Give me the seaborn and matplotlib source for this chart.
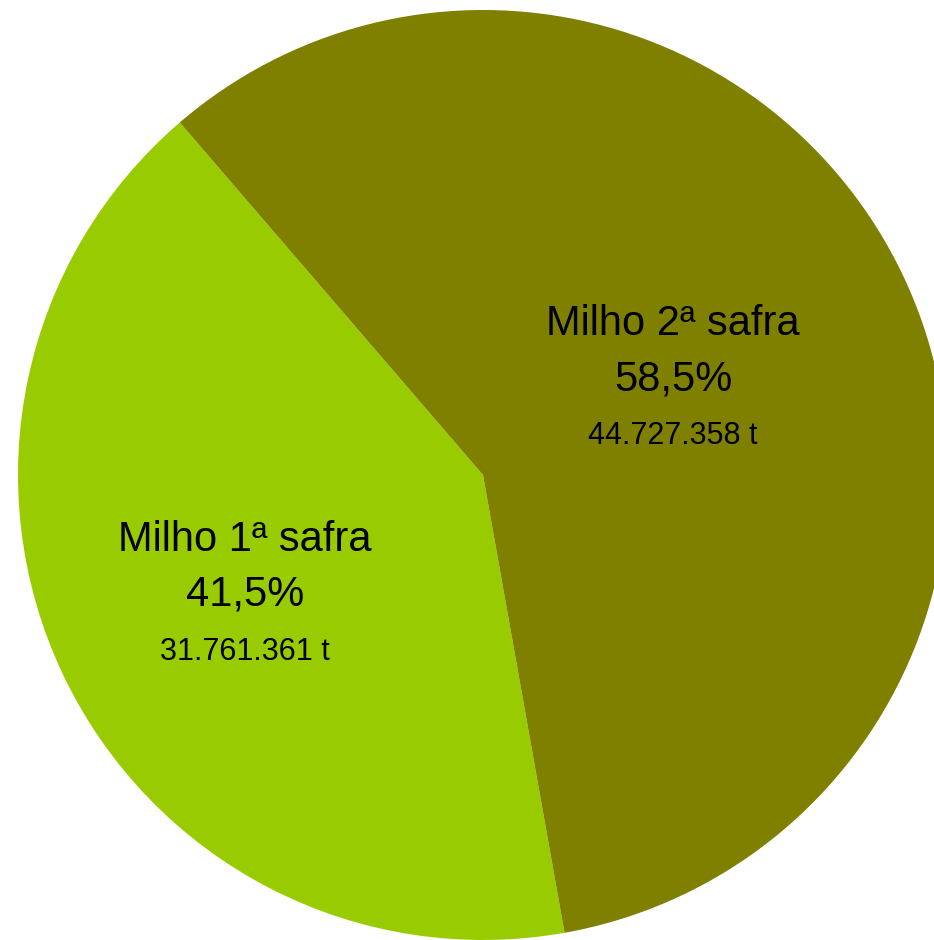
import matplotlib
matplotlib.use("Agg")
import matplotlib.pyplot as plt
import seaborn as sns

# dados
categorias = ["Milho 1ª safra", "Milho 2ª safra"]
percentuais = [41.5, 58.5]
rotulos_pct = ["41,5%", "58,5%"]
toneladas = ["31.761.361 t", "44.727.358 t"]
cores = ["#99CC00", "#808000"]

sns.set_theme(style="white")
plt.rcParams['font.family'] = ['Liberation Sans', 'DejaVu Sans']

fig = plt.figure(figsize=(9.34, 9.40), dpi=100)
ax = fig.add_axes([0, 0, 1, 1])
ax.pie(percentuais, colors=cores, startangle=130.7, counterclock=True,
       radius=1.0, center=(0, 0), wedgeprops=dict(linewidth=0))
ax.set_aspect('equal')
ax.set_xlim(-1.0387, 0.9699)
ax.set_ylim(-1.0, 1.0215)
ax.axis('off')

# posições dos rótulos (nome, percentual, toneladas)
pos_x = [-0.5118, 0.4086]
pos_y = [(-0.1398, -0.258, -0.3806), (0.3247, 0.2043, 0.0839)]
for x, (y1, y2, y3), cat, pct, ton in zip(pos_x, pos_y, categorias, rotulos_pct, toneladas):
    ax.text(x, y1, cat, ha='center', va='center', fontsize=30, color='black')
    ax.text(x, y2, pct, ha='center', va='center', fontsize=30, color='black')
    ax.text(x, y3, ton, ha='center', va='center', fontsize=22, color='black')

fig.savefig("out.png", dpi=100, facecolor='white')
